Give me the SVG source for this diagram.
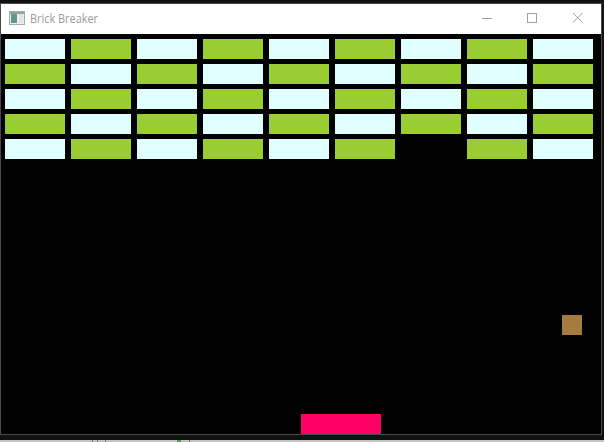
<svg xmlns="http://www.w3.org/2000/svg" width="604" height="442" viewBox="0 0 604 442">
<defs>
<style>
.w{fill:#e0ffff}.g{fill:#9acd32}
.t{font-family:"Open Sans","Noto Sans",sans-serif;font-size:12px;fill:#9a9a9a}
.c{fill:none;stroke:#a0a0a0;stroke-width:1}
</style>
<rect id="bw" class="w" width="60" height="20"/>
<rect id="bg" class="g" width="60" height="20"/>
</defs>
<rect width="604" height="442" fill="#111"/>
<rect y="440" width="604" height="2" fill="#c4c4c4"/>
<rect x="92" y="440" width="1" height="2" fill="#777"/><rect x="97" y="440" width="1" height="2" fill="#777"/><rect x="105" y="440" width="1" height="2" fill="#777"/>
<rect x="177" y="440" width="4" height="2" fill="#1db954"/><rect x="189" y="440" width="1" height="2" fill="#777"/>
<rect x="0.5" y="3.5" width="601" height="431" fill="#000" stroke="#4a4a4a"/>
<g id="titlebar">
<rect x="1" y="4" width="600" height="30" fill="#fff"/>
<rect x="9.5" y="11.5" width="15" height="13" fill="#ececec" stroke="#a8a8a8"/>
<rect x="10" y="12" width="14" height="2" fill="#9aa0a8"/>
<rect x="11" y="14" width="6" height="9" fill="#5d9a8c"/>
<rect x="19" y="14" width="4" height="9" fill="#dfe3e3"/>
<text class="t" x="30" y="23" textLength="68" lengthAdjust="spacingAndGlyphs">Brick Breaker</text>
<path class="c" d="M482 18.500H492"/>
<rect class="c" x="527.500" y="13.500" width="9" height="9"/>
<path class="c" d="M573 13L582.500 22.500M582.500 13L573 22.500"/>
</g>
<g id="bricks">
<use href="#bw" x="5" y="39"/><use href="#bg" x="71" y="39"/><use href="#bw" x="137" y="39"/><use href="#bg" x="203" y="39"/><use href="#bw" x="269" y="39"/><use href="#bg" x="335" y="39"/><use href="#bw" x="401" y="39"/><use href="#bg" x="467" y="39"/><use href="#bw" x="533" y="39"/>
<use href="#bg" x="5" y="64"/><use href="#bw" x="71" y="64"/><use href="#bg" x="137" y="64"/><use href="#bw" x="203" y="64"/><use href="#bg" x="269" y="64"/><use href="#bw" x="335" y="64"/><use href="#bg" x="401" y="64"/><use href="#bw" x="467" y="64"/><use href="#bg" x="533" y="64"/>
<use href="#bw" x="5" y="89"/><use href="#bg" x="71" y="89"/><use href="#bw" x="137" y="89"/><use href="#bg" x="203" y="89"/><use href="#bw" x="269" y="89"/><use href="#bg" x="335" y="89"/><use href="#bw" x="401" y="89"/><use href="#bg" x="467" y="89"/><use href="#bw" x="533" y="89"/>
<use href="#bg" x="5" y="114"/><use href="#bw" x="71" y="114"/><use href="#bg" x="137" y="114"/><use href="#bw" x="203" y="114"/><use href="#bg" x="269" y="114"/><use href="#bw" x="335" y="114"/><use href="#bg" x="401" y="114"/><use href="#bw" x="467" y="114"/><use href="#bg" x="533" y="114"/>
<use href="#bw" x="5" y="139"/><use href="#bg" x="71" y="139"/><use href="#bw" x="137" y="139"/><use href="#bg" x="203" y="139"/><use href="#bw" x="269" y="139"/><use href="#bg" x="335" y="139"/><use href="#bg" x="467" y="139"/><use href="#bw" x="533" y="139"/>
</g>
<rect id="ball" x="562" y="315" width="20" height="20" fill="#a67c3e"/>
<rect id="paddle" x="301" y="414" width="80" height="20" fill="#ff0066"/>
</svg>
